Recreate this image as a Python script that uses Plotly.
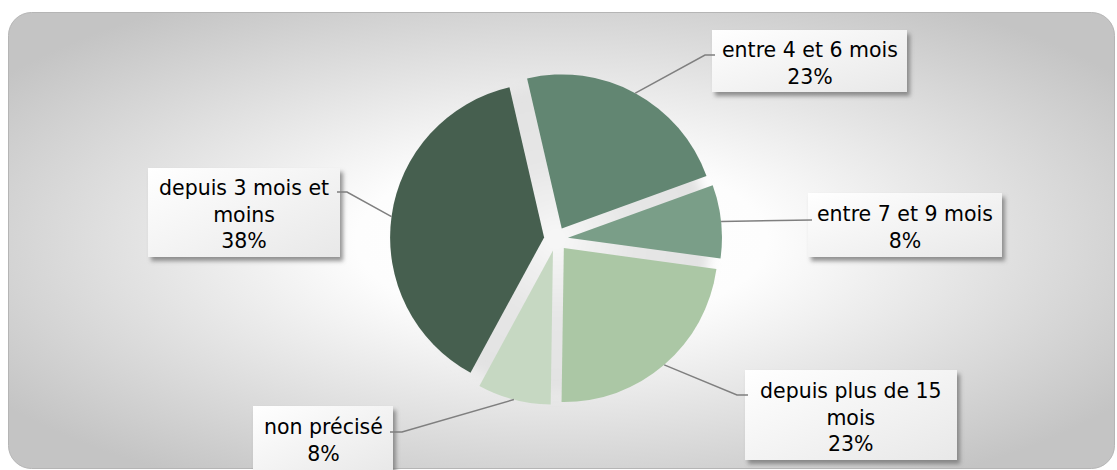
import math
import base64
import plotly.graph_objects as go

# ---------------- data ----------------
categories = ["entre 4 et 6 mois", "entre 7 et 9 mois", "depuis plus de 15 mois",
              "non précisé", "depuis 3 mois et moins"]
counts = [3, 1, 3, 1, 5]
label_lines = ["entre 4 et 6 mois", "entre 7 et 9 mois", "depuis plus de 15<br>mois",
               "non précisé", "depuis 3 mois et<br>moins"]
slice_colors = ["#628672", "#7A9E88", "#ABC7A5", "#C6D8C2", "#465F4F"]

# ---------------- layout geometry (pixels) ----------------
W, H = 1117, 470
CX, CY = 556, 239          # pie centre (px from top-left)
R_OUT = 166                # radius incl. pull
PULL = 0.078
ROT = -13

# label boxes (x0, y0, x1, y1) in px and leader elbows/ends
boxes = [(712, 30, 907, 92), (808, 193, 1002, 257), (745, 370, 957, 460),
         (253, 406, 393, 472), (148, 168, 340, 257)]
leader_ends = [[(705, 55), (715, 55)], [(812, 220)], [(737, 395), (748, 395)],
               [(402, 432), (390, 432)], [(347, 192), (337, 192)]]


def px(x):
    return x / W


def py(y):
    return 1 - y / H


total = sum(counts)
pcts = [round(100 * c / total) for c in counts]

fig = go.Figure()
fig.add_trace(go.Pie(
    labels=categories, values=counts, sort=False, direction="clockwise",
    rotation=ROT, pull=[PULL] * len(counts),
    marker=dict(colors=slice_colors, line=dict(width=0)),
    textinfo="none", hoverinfo="label+percent", showlegend=False,
    domain=dict(x=[px(CX - R_OUT), px(CX + R_OUT)],
                y=[py(CY + R_OUT), py(CY - R_OUT)]),
))

# ---------------- background svg (gradient, box shadows, box fills) ----------------
svg_parts = [
    f'<svg xmlns="http://www.w3.org/2000/svg" width="{W}" height="{H}" viewBox="0 0 {W} {H}">',
    '<defs>',
    '<radialGradient id="bg" cx="0.5" cy="0.5" r="0.62" gradientUnits="objectBoundingBox">',
    '<stop offset="0" stop-color="#ffffff"/><stop offset="0.3" stop-color="#fdfdfd"/>',
    '<stop offset="1" stop-color="#c4c4c4"/></radialGradient>',
    '<linearGradient id="bx" x1="0" y1="0" x2="1" y2="1">',
    '<stop offset="0" stop-color="#ffffff"/><stop offset="1" stop-color="#e8e8e8"/></linearGradient>',
    '<filter id="b1" x="-30%" y="-30%" width="160%" height="160%"><feGaussianBlur stdDeviation="2.2"/></filter>',
    '<filter id="b2" x="-30%" y="-30%" width="160%" height="160%"><feGaussianBlur stdDeviation="6"/></filter>',
    '<radialGradient id="gl" cx="0.5" cy="0.5" r="0.5">',
    '<stop offset="0" stop-color="#f8f8f8"/><stop offset="0.5" stop-color="#e6e6e6"/>',
    '<stop offset="1" stop-color="#e2e2e2"/></radialGradient>',
    '</defs>',
    '<rect x="8.5" y="12.5" width="1106" height="456" rx="23" ry="23" fill="url(#bg)" stroke="#b5b5b5" stroke-width="1"/>',
    f'<circle cx="{CX}" cy="{CY}" r="{R_OUT - 12}" fill="url(#gl)" filter="url(#b2)"/>',
]
for (x0, y0, x1, y1) in boxes:
    svg_parts.append(f'<rect x="{x0 + 3}" y="{y0 + 4}" width="{x1 - x0}" height="{y1 - y0}" '
                     f'fill="#707070" fill-opacity="0.75" filter="url(#b1)"/>')
for (x0, y0, x1, y1) in boxes:
    svg_parts.append(f'<rect x="{x0}" y="{y0}" width="{x1 - x0}" height="{y1 - y0}" fill="url(#bx)"/>')
svg_parts.append('</svg>')
svg = "".join(svg_parts)
src = "data:image/svg+xml;base64," + base64.b64encode(svg.encode("utf-8")).decode("ascii")

# ---------------- leader lines from slice mid-angles ----------------
shapes = []
cum = 0
for i, c in enumerate(counts):
    mid = ROT + 360 * (cum + c / 2) / total
    cum += c
    a = math.radians(mid)
    sx, sy = CX + R_OUT * math.sin(a), CY - R_OUT * math.cos(a)
    pts = [(sx, sy)] + leader_ends[i]
    path = "M " + " L ".join(f"{px(x):.5f},{py(y):.5f}" for x, y in pts)
    shapes.append(dict(type="path", xref="paper", yref="paper", path=path,
                       line=dict(color="#7f7f7f", width=1.5)))

annotations = []
for i, (x0, y0, x1, y1) in enumerate(boxes):
    cy_txt = (y0 + y1) / 2 + 2 if i != 3 else 440
    annotations.append(dict(
        xref="paper", yref="paper", x=px((x0 + x1) / 2), y=py(cy_txt),
        text=f"{label_lines[i]}<br>{pcts[i]}%", showarrow=False,
        xanchor="center", yanchor="middle", align="center",
        font=dict(family="DejaVu Sans", size=20.5, color="#000000"),
    ))

fig.update_layout(
    width=W, height=H, margin=dict(l=0, r=0, t=0, b=0),
    paper_bgcolor="#ffffff", plot_bgcolor="rgba(0,0,0,0)",
    images=[dict(source=src, xref="paper", yref="paper", x=0, y=1, sizex=1, sizey=1,
                 xanchor="left", yanchor="top", sizing="stretch", layer="below")],
    shapes=shapes, annotations=annotations,
)

fig.write_html("out.html", config={"displayModeBar": False},
               post_script="document.body.style.margin='0';document.body.style.overflow='hidden';")
